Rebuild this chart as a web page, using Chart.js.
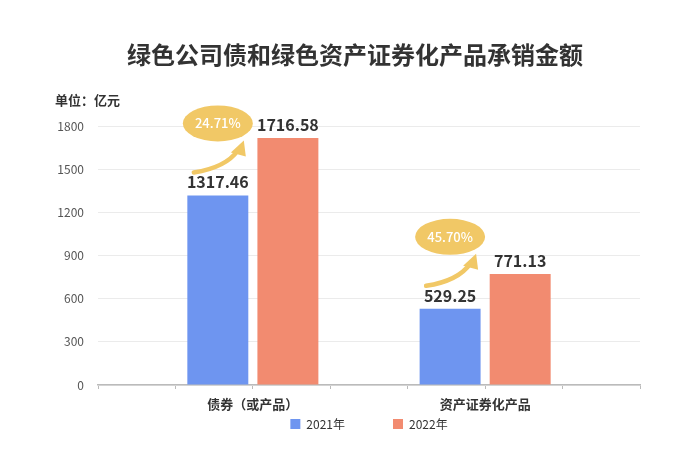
<!DOCTYPE html>
<html>
<head>
<meta charset="utf-8">
<script src="https://cdn.jsdelivr.net/npm/chart.js@4.4.1/dist/chart.umd.min.js"></script>
<style>
  html, body { margin: 0; padding: 0; background: #fff; }
  #wrap { width: 700px; height: 467px; }
</style>
</head>
<body>
<div id="wrap"><canvas id="myChart" width="700" height="467"></canvas></div>
<script>
// CHART DATA
const categories = ['', '', '债券（或产品）', '', '', '资产证券化产品', '', '']
const seriesNames = ['2021年', '2022年']
const values2021 = [null, null, 1317.46, null, null, 529.25, null, null]
const values2022 = [null, null, 1716.58, null, null, 771.13, null, null]
const growthLabels = [null, null, '24.71%', null, null, '45.70%', null, null]
const yTicks = [0, 300, 600, 900, 1200, 1500, 1800]

const FONT = "'Noto Sans CJK SC', 'Noto Sans', sans-serif"
const blue = 'rgb(110, 149, 240)'
const salmon = 'rgb(242, 139, 112)'
const gold = 'rgb(241, 200, 102)'

// TITLE + UNIT TEXT
const headerPlugin = {
  id: 'header',
  beforeDraw(chart) {
    const c = chart.ctx
    c.save()
    c.fillStyle = '#333'
    c.textAlign = 'center'
    c.textBaseline = 'middle'
    c.font = 'bold 24px ' + FONT
    c.fillText('绿色公司债和绿色资产证券化产品承销金额', 355, 55)
    c.textAlign = 'left'
    c.font = 'bold 13px ' + FONT
    c.fillText('单位：亿元', 55, 100)
    c.restore()
  }
}

// MOVE LEGEND UNDER THE AXIS LABELS, CENTERED ON PLOT
const legendPlugin = {
  id: 'legendPos',
  afterLayout(chart) {
    const lg = chart.legend
    const area = chart.chartArea
    lg.top = area.bottom - 15
    lg.height = 80
    lg.bottom = lg.top + 80
    lg.left = area.left
    lg.right = area.right
    lg.width = area.right - area.left
  }
}

// VALUE LABELS + GROWTH BUBBLES
const labelPlugin = {
  id: 'barLabels',
  afterDatasetsDraw(chart) {
    const c = chart.ctx
    c.save()
    c.font = 'bold 16px ' + FONT
    c.fillStyle = '#333'
    c.textAlign = 'center'
    c.textBaseline = 'alphabetic'
    chart.data.datasets.forEach((ds, di) => {
      chart.getDatasetMeta(di).data.forEach((bar, i) => {
        if (ds.data[i] == null) return
        c.fillText(ds.data[i].toFixed(2), bar.x, bar.y - 7)
      })
    })
    const meta = chart.getDatasetMeta(0)
    growthLabels.forEach((txt, i) => {
      if (!txt) return
      const bar = meta.data[i]
      const cx = bar.x, cy = bar.y - 72
      // arrow
      c.strokeStyle = gold
      c.fillStyle = gold
      c.lineWidth = 4.5
      c.lineCap = 'round'
      c.beginPath()
      c.moveTo(cx - 24, bar.y - 23)
      c.quadraticCurveTo(cx + 8, bar.y - 28, cx + 20, bar.y - 45)
      c.stroke()
      c.beginPath()
      c.moveTo(cx + 26, bar.y - 55)
      c.lineTo(cx + 13, bar.y - 43)
      c.lineTo(cx + 28, bar.y - 39)
      c.closePath()
      c.fill()
      // ellipse
      c.beginPath()
      c.ellipse(cx, cy, 35, 18, 0, 0, Math.PI * 2)
      c.fill()
      c.fillStyle = '#fff'
      c.font = '500 13px ' + FONT
      c.textBaseline = 'middle'
      c.fillText(txt, cx, cy)
      c.font = 'bold 16px ' + FONT
      c.textBaseline = 'alphabetic'
      c.fillStyle = '#333'
    })
    c.restore()
  }
}

const ctx = document.getElementById('myChart').getContext('2d')
const myChart = new Chart(ctx, {
  type: 'bar',
  data: {
    labels: categories,
    datasets: [{
      label: seriesNames[0],
      data: values2021,
      backgroundColor: blue
    }, {
      label: seriesNames[1],
      data: values2022,
      backgroundColor: salmon
    }]
  },
  options: {
    responsive: false,
    animation: false,
    categoryPercentage: 1.81,
    barPercentage: 0.87,
    layout: { padding: { top: 126, left: 0, right: 60, bottom: 0 } },
    plugins: {
      title: { display: false },
      tooltip: { enabled: false },
      legend: {
        position: 'bottom',
        maxHeight: 52,
        labels: {
          boxWidth: 10,
          boxHeight: 10,
          padding: 48,
          color: '#333',
          font: { family: FONT, size: 12 }
        }
      }
    },
    scales: {
      x: {
        offset: false,
        afterFit: s => { s.height = 30 },
        border: { color: '#bbb', width: 1.5 },
        grid: { offset: false, drawOnChartArea: false, drawTicks: true, tickLength: 4, color: '#bbb' },
        ticks: {
          autoSkip: false,
          maxRotation: 0,
          padding: 7,
          color: '#333',
          font: { family: FONT, size: 13, weight: 'bold' }
        }
      },
      y: {
        min: 0,
        max: 1800,
        afterFit: s => { s.width = 98 },
        afterBuildTicks: s => { s.ticks = yTicks.map(v => ({ value: v })) },
        border: { display: false },
        grid: { color: '#ebebeb', drawTicks: false },
        ticks: {
          padding: 14,
          color: '#555',
          font: { family: FONT, size: 12 },
          callback: v => String(v)
        }
      }
    }
  },
  plugins: [headerPlugin, legendPlugin, labelPlugin]
})
</script>
</body>
</html>
